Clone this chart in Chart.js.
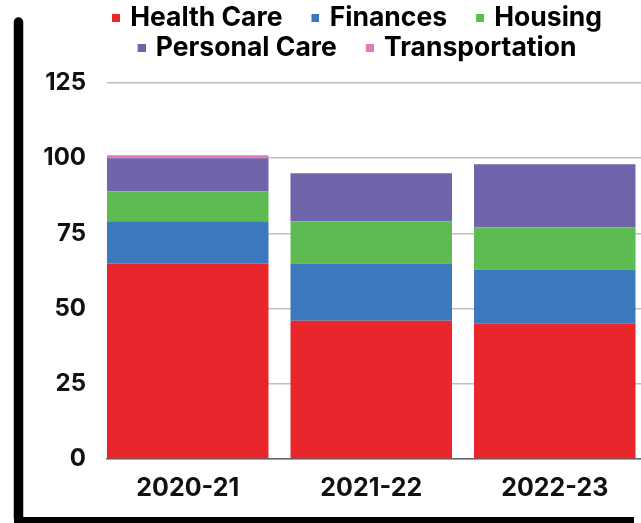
<!DOCTYPE html>
<html>
<head>
<meta charset="utf-8">
<script src="https://cdn.jsdelivr.net/npm/chart.js@4/dist/chart.umd.min.js"></script>
<style>
  html, body { margin: 0; padding: 0; background: #fff; }
  #wrap { width: 641px; height: 523px; position: relative; }
</style>
</head>
<body>
<div id="wrap"><canvas id="chart" width="641" height="523"></canvas></div>
<script>
// --- data ---
const categories = ["2020-21", "2021-22", "2022-23"];
const healthCare = [65, 46, 45];
const finances = [14, 19, 18];
const housing = [10, 14, 14];
const personalCare = [11, 16, 21];
const transportation = [1, 0, 0];
const yTicks = [0, 25, 50, 75, 100, 125];

const FONT = "Inter";

// legend marker: 8px square at the right end of a wider transparent canvas
function marker(color) {
  const c = document.createElement("canvas");
  c.width = 37;
  c.height = 8;
  const g = c.getContext("2d");
  g.fillStyle = color;
  g.fillRect(29, 0, 8, 8);
  return c;
}

const series = [
  { label: "Health Care", data: healthCare, color: "#E8262B" },
  { label: "Finances", data: finances, color: "#3B78BE" },
  { label: "Housing", data: housing, color: "#5EBB51" },
  { label: "Personal Care", data: personalCare, color: "#6F65AB" },
  { label: "Transportation", data: transportation, color: "#E479B4" },
];

const datasets = series.map((s) => ({
  label: s.label,
  data: s.data.map((v, i) => ({ x: i, y: v })),
  backgroundColor: s.color,
  borderWidth: 0,
  categoryPercentage: 0.88,
  barPercentage: 1,
}));

// black frame on the left and bottom
const framePlugin = {
  id: "frame",
  afterDraw(chart) {
    const c = chart.ctx;
    c.save();
    c.strokeStyle = "#000";
    c.lineCap = "round";
    c.lineWidth = 9.5;
    c.beginPath();
    c.moveTo(18.5, 22);
    c.lineTo(18.5, 518);
    c.stroke();
    c.fillStyle = "#000";
    c.fillRect(14, 517, 620, 6);
    c.restore();
  },
};

// extra space under the legend, and nudge it right a bit
const legendTweak = {
  id: "legendTweak",
  beforeInit(chart) {
    const origFit = chart.legend.fit;
    chart.legend.fit = function fit() {
      origFit.bind(chart.legend)();
      this.height += 12;
    };
  },
  afterLayout(chart) {
    chart.legend.left += 11;
    chart.legend.right += 11;
  },
};

new Chart(document.getElementById("chart"), {
  type: "bar",
  data: { datasets },
  options: {
    responsive: false,
    animation: false,
    layout: { padding: { left: 25, right: 0, top: 2, bottom: 6 } },
    plugins: {
      legend: {
        position: "top",
        labels: {
          color: "#111",
          font: { family: FONT, size: 26.5, weight: "700" },
          padding: 3,
          usePointStyle: true,
          pointStyleWidth: 31,
          boxHeight: 8,
          generateLabels(chart) {
            return series.map((s, i) => ({
              text: s.label,
              fillStyle: s.color,
              strokeStyle: s.color,
              lineWidth: 0,
              pointStyle: marker(s.color),
              hidden: false,
              datasetIndex: i,
            }));
          },
        },
      },
      tooltip: { enabled: false },
    },
    scales: {
      x: {
        type: "linear",
        stacked: true,
        min: -0.44,
        max: 2.47,
        offset: false,
        grid: { display: false, drawTicks: false, offset: false },
        border: { display: true, color: "#666", width: 1.5 },
        ticks: {
          stepSize: 1,
          includeBounds: false,
          padding: 14,
          color: "#111",
          font: { family: FONT, size: 25, weight: "700" },
          callback: (v) => categories[v] ?? "",
        },
      },
      y: {
        stacked: true,
        min: 0,
        max: 125,
        afterFit(scale) { scale.width = 82; },
        afterBuildTicks(scale) { scale.ticks = yTicks.map((v) => ({ value: v })); },
        grid: { color: "#BFBFBF", lineWidth: 1.5, drawTicks: false },
        border: { display: false },
        ticks: {
          padding: 21,
          color: "#111",
          font: { family: FONT, size: 24, weight: "700" },
        },
      },
    },
  },
  plugins: [framePlugin, legendTweak],
});
</script>
</body>
</html>
